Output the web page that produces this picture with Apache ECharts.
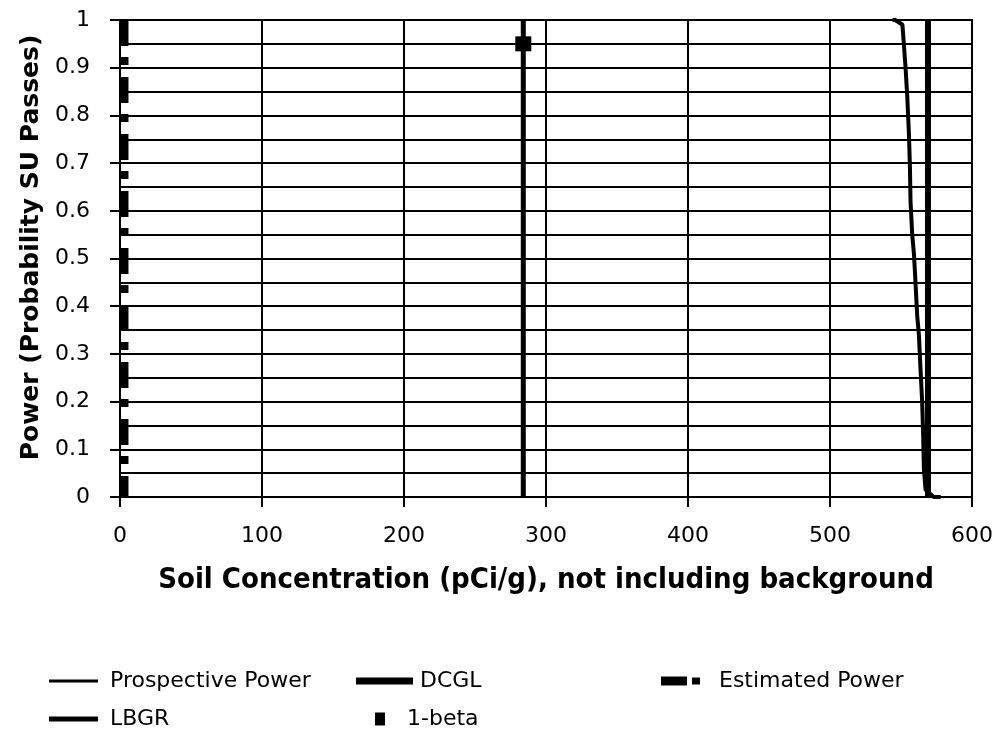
<!DOCTYPE html>
<html>
<head>
<meta charset="utf-8">
<title>Power curve</title>
<script src="https://cdn.jsdelivr.net/npm/echarts@6/dist/echarts.min.js"></script>
<style>
  html, body { margin: 0; padding: 0; background: #fff; }
  #chart { width: 996px; height: 731px; }
</style>
</head>
<body>
<div id="chart"></div>
<script>
// data
const xTicks = [0, 100, 200, 300, 400, 500, 600];
const yTicks = [0, 0.1, 0.2, 0.3, 0.4, 0.5, 0.6, 0.7, 0.8, 0.9, 1];

// prospective power curve (concentration, power)
const prospectiveX = [544, 546, 551, 552, 553.2, 554.4, 555.6, 556.3, 556.7, 557.9, 559.1, 560.2, 561.4, 562.6, 563.7, 564.9, 565.6, 566.1, 567.3, 573, 578];
const prospectiveY = [1, 1, 0.99, 0.95, 0.90, 0.84, 0.76, 0.69, 0.62, 0.55, 0.51, 0.45, 0.38, 0.34, 0.27, 0.20, 0.13, 0.06, 0.015, 0, 0];

const dcglX = [569, 569];
const dcglY = [0, 1];
const lbgrX = [284, 284];
const lbgrY = [0, 1];
const estimatedX = [2.8, 2.8];
const estimatedY = [1, 0];
const oneBetaX = [284];
const oneBetaY = [0.95];

const pairs = (xs, ys) => xs.map((x, i) => [x, ys[i]]);

const tickFont = 'DejaVu Sans';
const chart = echarts.init(document.getElementById('chart'));

// one legend block per entry so they sit where the original put them
function legendItem(name, left, top, icon, w, h, pad) {
  return {
    data: [name],
    left: left,
    top: top,
    padding: 0,
    icon: icon,
    itemWidth: w,
    itemHeight: h,
    selectedMode: false,
    itemStyle: { color: '#000', borderWidth: 0, opacity: 1 },
    lineStyle: { width: 0 },
    textStyle: { fontFamily: tickFont, fontSize: 22, color: '#000', padding: [0, 0, 0, pad] }
  };
}

const option = {
  backgroundColor: '#fff',
  animation: false,
  grid: { left: 120, right: 21, top: 20, bottom: 234, show: true, borderColor: '#000', borderWidth: 2 },
  legend: [
    legendItem('Prospective Power', 49, 670, 'rect', 49, 3, 7),
    legendItem('DCGL', 356, 670, 'rect', 57, 7, 2),
    legendItem('Estimated Power', 661, 670, 'path://M0,0h26v9h-26z M31,1h8v7h-8z', 39, 9, 14),
    legendItem('LBGR', 49, 708, 'rect', 49, 5, 7),
    legendItem('1-beta', 375, 708, 'rect', 10, 13, 17)
  ],
  xAxis: {
    type: 'value',
    min: xTicks[0],
    max: xTicks[xTicks.length - 1],
    interval: 100,
    name: 'Soil Concentration (pCi/g), not including background',
    nameLocation: 'middle',
    nameGap: 69,
    nameTextStyle: { fontFamily: 'DejaVu Sans Condensed', fontWeight: 'bold', fontSize: 29, color: '#000' },
    axisLine: { onZero: false, lineStyle: { color: '#000', width: 2 } },
    axisTick: { show: true, inside: false, length: 10, lineStyle: { color: '#000', width: 2 } },
    axisLabel: { margin: 28, fontFamily: tickFont, fontSize: 22, color: '#000' },
    splitLine: { show: true, lineStyle: { color: '#000', width: 2 } }
  },
  yAxis: {
    type: 'value',
    min: yTicks[0],
    max: yTicks[yTicks.length - 1],
    interval: 0.1,
    name: 'Power (Probability SU Passes)',
    nameLocation: 'middle',
    nameGap: 58,
    nameTextStyle: { fontFamily: 'DejaVu Sans', fontWeight: 'bold', fontSize: 25, color: '#000', padding: [0, 0, 0, 22] },
    axisLine: { lineStyle: { color: '#000', width: 2 } },
    axisTick: { show: true, inside: false, length: 10, lineStyle: { color: '#000', width: 2 } },
    axisLabel: {
      margin: 30, fontFamily: tickFont, fontSize: 22, color: '#000',
      formatter: v => String(Math.round(v * 10) / 10)
    },
    splitLine: { show: true, lineStyle: { color: '#000', width: 2 } },
    minorTick: { show: false, splitNumber: 2 },
    minorSplitLine: { show: true, lineStyle: { color: '#000', width: 2 } }
  },
  series: [
    {
      name: 'Prospective Power', type: 'line', showSymbol: false, symbol: 'none',
      data: pairs(prospectiveX, prospectiveY),
      lineStyle: { color: '#000', width: 4 }, itemStyle: { color: '#000' }, z: 3
    },
    {
      name: 'DCGL', type: 'line', showSymbol: false, symbol: 'none',
      data: pairs(dcglX, dcglY),
      lineStyle: { color: '#000', width: 6 }, itemStyle: { color: '#000' }, z: 4
    },
    {
      name: 'Estimated Power', type: 'line', showSymbol: false, symbol: 'none',
      data: pairs(estimatedX, estimatedY),
      lineStyle: { color: '#000', width: 9, type: [26, 11, 8, 12] }, itemStyle: { color: '#000' }, z: 4
    },
    {
      name: 'LBGR', type: 'line', showSymbol: false, symbol: 'none',
      data: pairs(lbgrX, lbgrY),
      lineStyle: { color: '#000', width: 5 }, itemStyle: { color: '#000' }, z: 4
    },
    {
      name: '1-beta', type: 'scatter', symbol: 'rect', symbolSize: [16, 15],
      data: pairs(oneBetaX, oneBetaY),
      itemStyle: { color: '#000', opacity: 1 }, z: 5
    }
  ]
};

chart.setOption(option);
</script>
</body>
</html>
